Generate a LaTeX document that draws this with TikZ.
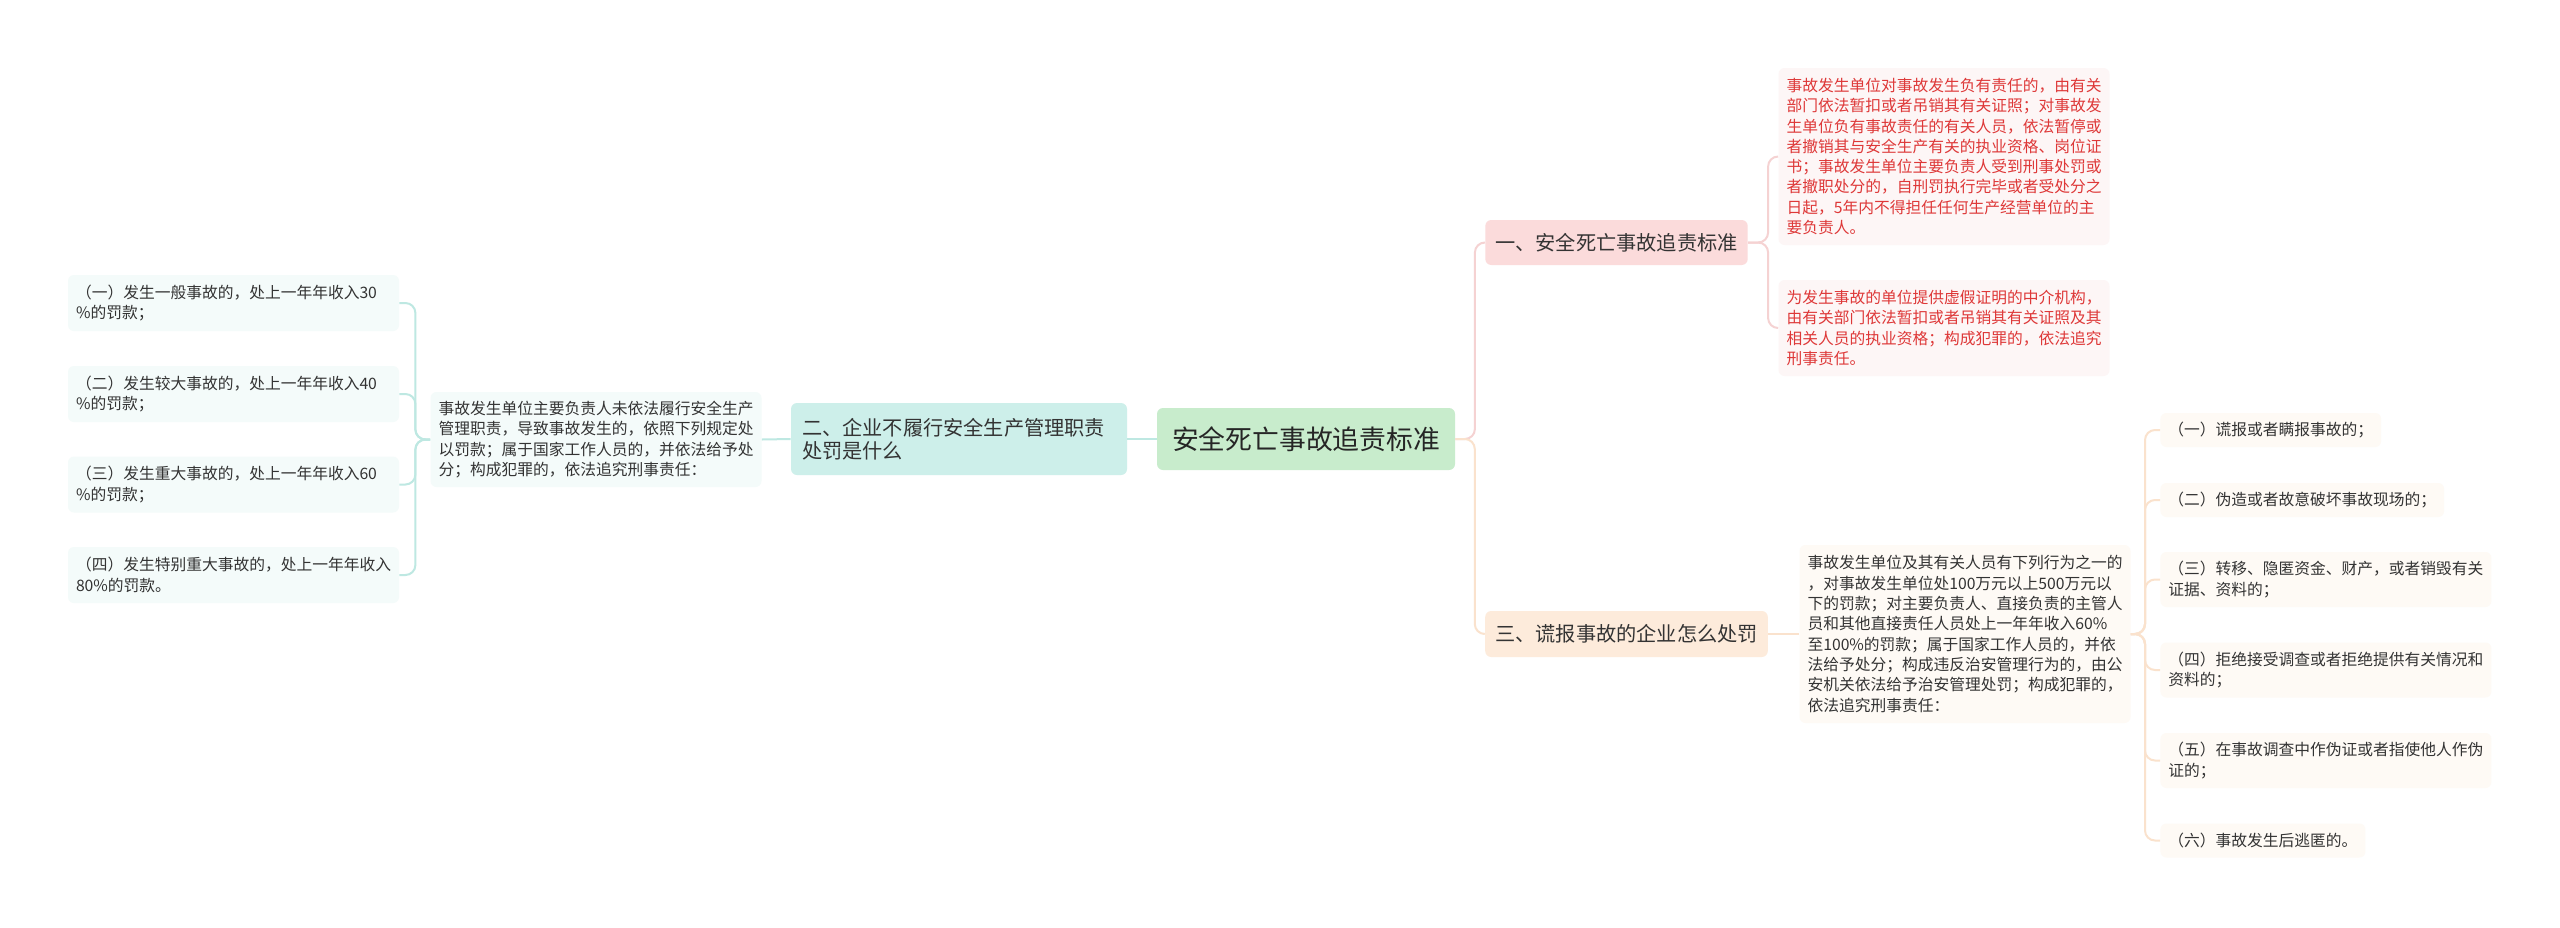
\documentclass[tikz,border=0pt]{standalone}
\usepackage{fontspec}
\setmainfont{Noto Sans CJK SC}
\usepackage{tikz}

\definecolor{rootgreen}{RGB}{200,236,204}
\definecolor{tealfill}{RGB}{205,239,234}
\definecolor{pinkfill}{RGB}{251,219,219}
\definecolor{peachfill}{RGB}{253,235,219}
\definecolor{redleaf}{RGB}{253,246,246}
\definecolor{tealleaf}{RGB}{244,251,250}
\definecolor{peachleaf}{RGB}{254,250,245}
\definecolor{redtext}{RGB}{222,56,56}
\definecolor{txtgray}{RGB}{51,51,51}
\definecolor{linkteal}{RGB}{190,232,226}
\definecolor{linkpink}{RGB}{245,210,210}
\definecolor{linkpeach}{RGB}{250,226,205}

\begin{document}
\begin{tikzpicture}[x=0.5pt, y=-0.5pt,
	every node/.style={inner ysep=0pt, text=txtgray},
	root/.style={fill=rootgreen, rounded corners=3pt, inner xsep=7.5pt, minimum height=31pt,
		font=\fontsize{13.4}{16}\selectfont, text=black!85},
	branch/.style={rounded corners=3pt, inner xsep=5pt, minimum height=22.5pt,
		font=\fontsize{10.1}{11.3}\selectfont, text=black!80},
	leaf/.style={rounded corners=3pt, inner xsep=4pt, align=left,
		font=\fontsize{7.875}{10.15}\selectfont},
	wide/.style={text width=157.5pt},
	link/.style={line width=1pt, rounded corners=5pt}
	]
\fill[white] (0,0) rectangle (2560,927);
\useasboundingbox (0,0) rectangle (2560,927);

% centre
\node[root] (root) at (1306,439) {安全死亡事故追责标准};

% left
\node[branch, fill=tealfill, text width=157pt, align=left, inner xsep=5.5pt, minimum height=36pt] (b2) at (959,439)
	{二、企业不履行安全生产管理职责\\处罚是什么};
\node[leaf, wide, fill=tealleaf, minimum height=47.5pt] (lt) at (596,439.5)
	{事故发生单位主要负责人未依法履行安全生产\\管理职责，导致事故发生的，依照下列规定处\\以罚款；属于国家工作人员的，并依法给予处\\分；构成犯罪的，依法追究刑事责任：};
\node[leaf, wide, fill=tealleaf, minimum height=28pt] (l1) at (233.5,303)
	{（一）发生一般事故的，处上一年年收入30\\\%的罚款；};
\node[leaf, wide, fill=tealleaf, minimum height=28pt] (l2) at (233.5,394)
	{（二）发生较大事故的，处上一年年收入40\\\%的罚款；};
\node[leaf, wide, fill=tealleaf, minimum height=28pt] (l3) at (233.5,484.5)
	{（三）发生重大事故的，处上一年年收入60\\\%的罚款；};
\node[leaf, wide, fill=tealleaf, minimum height=28pt] (l4) at (233.5,575)
	{（四）发生特别重大事故的，处上一年年收入\\80\%的罚款。};

% right, top
\node[branch, fill=pinkfill] (b1) at (1616.5,242.5) {一、安全死亡事故追责标准};
\node[leaf, wide, fill=redleaf, text=redtext, minimum height=88.5pt] (r1) at (1944,156.5)
	{事故发生单位对事故发生负有责任的，由有关\\部门依法暂扣或者吊销其有关证照；对事故发\\生单位负有事故责任的有关人员，依法暂停或\\者撤销其与安全生产有关的执业资格、岗位证\\书；事故发生单位主要负责人受到刑事处罚或\\者撤职处分的，自刑罚执行完毕或者受处分之\\日起，5年内不得担任任何生产经营单位的主\\要负责人。};
\node[leaf, wide, fill=redleaf, text=redtext, minimum height=48pt] (r2) at (1944,328)
	{为发生事故的单位提供虚假证明的中介机构，\\由有关部门依法暂扣或者吊销其有关证照及其\\相关人员的执业资格；构成犯罪的，依法追究\\刑事责任。};

% right, bottom
\node[branch, fill=peachfill, minimum height=23pt] (b3) at (1626.5,634) {三、谎报事故的企业怎么处罚};
\node[leaf, wide, fill=peachleaf, minimum height=89pt] (t3) at (1965,634)
	{事故发生单位及其有关人员有下列行为之一的\\，对事故发生单位处100万元以上500万元以\\下的罚款；对主要负责人、直接负责的主管人\\员和其他直接责任人员处上一年年收入60\%\\至100\%的罚款；属于国家工作人员的，并依\\法给予处分；构成违反治安管理行为的，由公\\安机关依法给予治安管理处罚；构成犯罪的，\\依法追究刑事责任：};
\node[leaf, fill=peachleaf, minimum height=17pt, anchor=west] (ra) at (2160,430) {（一）谎报或者瞒报事故的；};
\node[leaf, fill=peachleaf, minimum height=17pt, anchor=west] (rb) at (2160,500) {（二）伪造或者故意破坏事故现场的；};
\node[leaf, wide, fill=peachleaf, minimum height=27.5pt, anchor=west] (rc) at (2160,579.5)
	{（三）转移、隐匿资金、财产，或者销毁有关\\证据、资料的；};
\node[leaf, wide, fill=peachleaf, minimum height=27.5pt, anchor=west] (rd) at (2160,670)
	{（四）拒绝接受调查或者拒绝提供有关情况和\\资料的；};
\node[leaf, wide, fill=peachleaf, minimum height=27.5pt, anchor=west] (re) at (2160,760.5)
	{（五）在事故调查中作伪证或者指使他人作伪\\证的；};
\node[leaf, fill=peachleaf, minimum height=17pt, anchor=west] (rf) at (2160,840.5) {（六）事故发生后逃匿的。};

% links
\draw[link, linkteal] (root.west) -- (b2.east);
\draw[link, linkteal] (b2.west) -- (lt.east);
\foreach \n in {l1,l2,l3,l4}
	\draw[link, linkteal] (lt.west) -| ([xshift=8pt]\n.east) -- (\n.east);
\draw[link, linkpink] (root.east) -| ([xshift=-5pt]b1.west) -- (b1.west);
\draw[link, linkpeach] (root.east) -| ([xshift=-5pt]b3.west) -- (b3.west);
\foreach \n in {r1,r2}
	\draw[link, linkpink] (b1.east) -| ([xshift=-5pt]\n.west) -- (\n.west);
\draw[link, linkpeach] (b3.east) -- (t3.west);
\foreach \n in {ra,rb,rc,rd,re,rf}
	\draw[link, linkpeach] (t3.east) -| ([xshift=-7.5pt]\n.west) -- (\n.west);
\end{tikzpicture}
\end{document}
